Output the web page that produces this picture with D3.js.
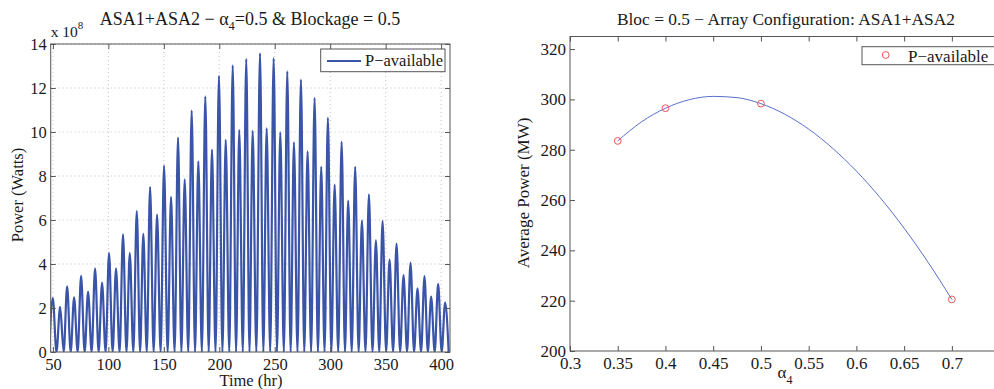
<!DOCTYPE html>
<html>
<head>
<meta charset="utf-8">
<script src="https://cdn.jsdelivr.net/npm/d3@7"></script>
<style>
  body { margin: 0; background: #fff; }
  svg text { font-family: 'Liberation Serif', 'DejaVu Serif', serif; fill: #1a1a1a; }
</style>
</head>
<body>
<svg id="chart" width="994" height="389"></svg>
<script>
// left panel - available power (x 1e8 W) vs time (hr)
const peakTimes = [49.9, 56.5, 62.8, 69.1, 75.4, 81.7, 88.0, 94.3, 100.6, 106.9, 113.2, 119.3, 125.6, 131.5, 137.6,
    143.9, 150.2, 156.5, 162.8, 168.8, 175.1, 181.1, 187.4, 193.4, 199.7, 205.8, 212.1, 218.0, 224.3,
    230.1, 236.7, 242.7, 249.0, 255.0, 261.3, 267.3, 273.6, 279.6, 285.9, 291.9, 297.9, 304.0, 310.3, 316.2,
    322.5, 328.6, 334.9, 341.2, 347.2, 353.5, 359.8, 366.1, 372.4, 378.7, 385.0, 391.0, 397.3, 403.6]
const peakValues = [2.45, 2.05, 2.98, 2.48, 3.46, 2.74, 3.8, 3.15, 4.5, 3.8, 5.35, 4.5, 6.4, 5.37, 7.5,
    6.25, 8.47, 7.05, 9.74, 7.85, 10.97, 8.67, 11.62, 9.2, 12.55, 9.64, 13.03, 10.09, 13.32,
    10.05, 13.58, 10.17, 13.36, 9.98, 12.76, 9.53, 12.38, 9.12, 11.55, 8.42, 10.64, 7.61, 9.55, 6.88,
    8.42, 5.97, 7.17, 5.07, 5.95, 4.2, 4.93, 3.5, 4.06, 2.89, 3.45, 2.52, 3.1, 2.25]
const troughTimes = [46.6, 53.2, 59.7, 66.0, 72.3, 78.6, 84.9, 91.2, 97.5, 103.8, 110.1, 116.3, 122.5, 128.6, 134.6,
    140.8, 147.1, 153.4, 159.7, 165.8, 172.0, 178.1, 184.3, 190.4, 196.6, 202.8, 209.0, 215.1, 221.2,
    227.2, 233.4, 239.7, 245.9, 252.0, 258.2, 264.3, 270.5, 276.6, 282.8, 288.9, 294.9, 301.0, 307.2, 313.3,
    319.4, 325.6, 331.8, 338.1, 344.2, 350.4, 356.7, 363.0, 369.3, 375.6, 381.9, 388.0, 394.2, 400.5, 406.8]
const timeTicks = [50, 100, 150, 200, 250, 300, 350, 400]
const powerTicks = [0, 2, 4, 6, 8, 10, 12, 14]

// right panel - average power (MW) vs alpha_4
const alphaValues = [0.35, 0.4, 0.5, 0.7]
const avgPower = [283.5, 296.5, 298.3, 220.5]
const fitAlpha = [0.35, 0.375, 0.4, 0.425, 0.45, 0.475, 0.5, 0.525, 0.55, 0.575, 0.6, 0.625, 0.65, 0.675, 0.7]
const fitPower = [283.5, 291.1, 296.5, 299.9, 301.2, 300.7, 298.3, 294.1, 288.2, 280.6, 271.5, 260.9, 248.8, 235.3, 220.5]
const alphaTicks = [0.3, 0.35, 0.4, 0.45, 0.5, 0.55, 0.6, 0.65, 0.7]
const avgTicks = [200, 220, 240, 260, 280, 300, 320]

const lineBlue = '#3a54a8'
const frameColor = '#555'
const svg = d3.select('#chart')

// ---------- left ----------
const L = { left: 50.7, right: 450, top: 44, bottom: 352 }
const xL = d3.scaleLinear().domain([48, 408]).range([L.left, L.right])
const yL = d3.scaleLinear().domain([0, 14]).range([L.bottom, L.top])

const series = peakTimes.map((t, i) => ({ t: t, v: peakValues[i] }))
    .concat(troughTimes.map(t => ({ t: t, v: 0 })))
    .sort((a, b) => a.t - b.t)

const gL = svg.append('g')

// dotted grid
gL.append('g').selectAll('line').data(timeTicks).enter().append('line')
    .attr('x1', d => xL(d)).attr('x2', d => xL(d))
    .attr('y1', L.top).attr('y2', L.bottom)
    .attr('stroke', '#b5b5b5').attr('stroke-width', 0.8).attr('stroke-dasharray', '1,3')
gL.append('g').selectAll('line').data(powerTicks).enter().append('line')
    .attr('x1', L.left).attr('x2', L.right)
    .attr('y1', d => yL(d)).attr('y2', d => yL(d))
    .attr('stroke', '#b5b5b5').attr('stroke-width', 0.8).attr('stroke-dasharray', '1,3')

svg.append('clipPath').attr('id', 'clipL').append('rect')
    .attr('x', L.left).attr('y', L.top).attr('width', L.right - L.left).attr('height', L.bottom - L.top)

gL.append('path')
    .datum(series)
    .attr('clip-path', 'url(#clipL)')
    .attr('fill', 'none')
    .attr('stroke', lineBlue)
    .attr('stroke-width', 2.2)
    .attr('d', d3.line().x(d => xL(d.t)).y(d => yL(d.v)).curve(d3.curveMonotoneX))

function styleAxis(g, size) {
    g.select('.domain').remove()
    g.selectAll('.tick line').attr('stroke', frameColor)
    g.selectAll('.tick text').attr('font-size', size).attr('fill', '#1a1a1a')
        .style('font-family', "'Liberation Serif', serif")
}

gL.append('g').attr('transform', `translate(0,${L.bottom})`)
    .call(d3.axisBottom(xL).tickValues(timeTicks).tickSize(-5).tickPadding(6))
    .call(g => styleAxis(g, 16.5))
gL.append('g').attr('transform', `translate(0,${L.top})`)
    .call(d3.axisTop(xL).tickValues(timeTicks).tickSize(-5).tickFormat(''))
    .call(g => styleAxis(g, 16.5))
gL.append('g').attr('transform', `translate(${L.left},0)`)
    .call(d3.axisLeft(yL).tickValues(powerTicks).tickSize(-5).tickPadding(4))
    .call(g => styleAxis(g, 16.5))
gL.append('g').attr('transform', `translate(${L.right},0)`)
    .call(d3.axisRight(yL).tickValues(powerTicks).tickSize(-5).tickFormat(''))
    .call(g => styleAxis(g, 16.5))

gL.append('rect')
    .attr('x', L.left).attr('y', L.top).attr('width', L.right - L.left).attr('height', L.bottom - L.top)
    .attr('fill', 'none').attr('stroke', frameColor).attr('stroke-width', 1)

// exponent
const expo = gL.append('text').attr('x', L.left).attr('y', 37).attr('font-size', 15.5)
expo.append('tspan').text('x 10')
expo.append('tspan').attr('dy', -8).attr('font-size', 11).text('8')

const titleL = gL.append('text').attr('x', 250).attr('y', 25).attr('text-anchor', 'middle').attr('font-size', 18)
titleL.append('tspan').text('ASA1+ASA2 − α')
titleL.append('tspan').attr('dy', 5).attr('font-size', 12.5).text('4')
titleL.append('tspan').attr('dy', -5).text('=0.5 & Blockage = 0.5')

gL.append('text').attr('x', 251).attr('y', 386).attr('text-anchor', 'middle').attr('font-size', 16.5).text('Time (hr)')
gL.append('text').attr('transform', 'translate(23,195) rotate(-90)').attr('text-anchor', 'middle')
    .attr('font-size', 16.5).text('Power (Watts)')

// legend
gL.append('rect').attr('x', 320.7).attr('y', 49).attr('width', 124.3).attr('height', 22.7)
    .attr('fill', '#fff').attr('stroke', frameColor).attr('stroke-width', 1)
gL.append('line').attr('x1', 327).attr('x2', 361).attr('y1', 61).attr('y2', 61)
    .attr('stroke', lineBlue).attr('stroke-width', 2)
gL.append('text').attr('x', 365).attr('y', 66).attr('font-size', 16.5).text('P−available')

// ---------- right ----------
const R = { left: 570, right: 999.6, top: 36.5, bottom: 351 }
const xR = d3.scaleLinear().domain([0.3, 0.75]).range([R.left, R.right])
const yR = d3.scaleLinear().domain([200, 325]).range([R.bottom, R.top])

const gR = svg.append('g')

gR.append('g').attr('transform', `translate(0,${R.bottom})`)
    .call(d3.axisBottom(xR).tickValues(alphaTicks).tickSize(-5).tickPadding(6).tickFormat(d => String(d)))
    .call(g => styleAxis(g, 17))
gR.append('g').attr('transform', `translate(0,${R.top})`)
    .call(d3.axisTop(xR).tickValues(alphaTicks).tickSize(-5).tickFormat(''))
    .call(g => styleAxis(g, 17))
gR.append('g').attr('transform', `translate(${R.left},0)`)
    .call(d3.axisLeft(yR).tickValues(avgTicks).tickSize(-5).tickPadding(4))
    .call(g => styleAxis(g, 17))

gR.append('rect')
    .attr('x', R.left).attr('y', R.top).attr('width', R.right - R.left).attr('height', R.bottom - R.top)
    .attr('fill', 'none').attr('stroke', frameColor).attr('stroke-width', 1)

gR.append('path')
    .datum(fitAlpha.map((a, i) => [a, fitPower[i]]))
    .attr('fill', 'none')
    .attr('stroke', '#5a6fcc')
    .attr('stroke-width', 1)
    .attr('d', d3.line().x(d => xR(d[0])).y(d => yR(d[1])).curve(d3.curveMonotoneX))

gR.append('g').selectAll('circle').data(alphaValues).enter().append('circle')
    .attr('cx', d => xR(d))
    .attr('cy', (d, i) => yR(avgPower[i]))
    .attr('r', 3.4)
    .attr('fill', 'none')
    .attr('stroke', '#ee5555')
    .attr('stroke-width', 1)

const titleR = gR.append('text').attr('x', 786).attr('y', 25).attr('text-anchor', 'middle').attr('font-size', 17.4)
titleR.text('Bloc = 0.5 − Array Configuration: ASA1+ASA2')

const xLabR = gR.append('text').attr('x', 785).attr('y', 378).attr('text-anchor', 'middle').attr('font-size', 17)
xLabR.append('tspan').text('α')
xLabR.append('tspan').attr('dy', 6).attr('font-size', 12).text('4')

gR.append('text').attr('transform', 'translate(529,193) rotate(-90)').attr('text-anchor', 'middle')
    .attr('font-size', 17).text('Average Power (MW)')

// legend
gR.append('rect').attr('x', 862).attr('y', 46.7).attr('width', 140).attr('height', 18)
    .attr('fill', '#fff').attr('stroke', frameColor).attr('stroke-width', 1)
gR.append('circle').attr('cx', 885.7).attr('cy', 55).attr('r', 3.4)
    .attr('fill', 'none').attr('stroke', '#ee5555').attr('stroke-width', 1)
gR.append('text').attr('x', 908).attr('y', 61.5).attr('font-size', 17).text('P−available')
</script>
</body>
</html>
